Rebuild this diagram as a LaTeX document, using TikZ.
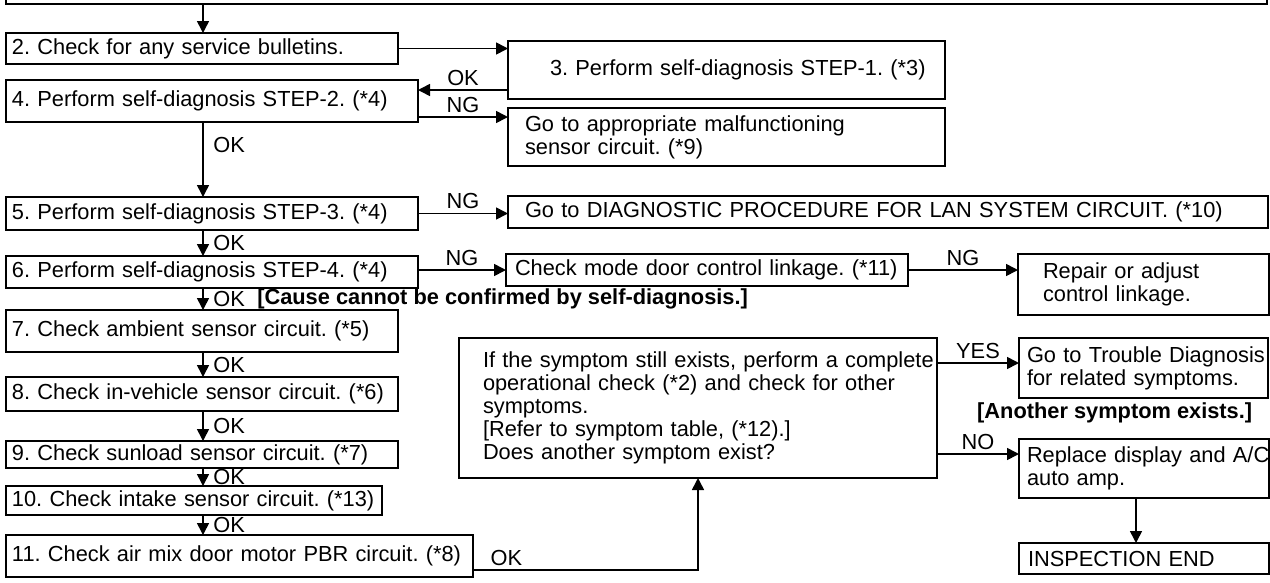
\documentclass[tikz,border=0pt]{standalone}
\usepackage{fontspec}
\setmainfont{Liberation Sans}
\usetikzlibrary{arrows.meta,calc}
\newcommand\fsz{\fontsize{21.8}{23}\selectfont\frenchspacing}
\begin{document}
\begin{tikzpicture}[x=1pt,y=-1pt,
  box/.style={draw, line width=2pt, anchor=north west, align=left, inner xsep=6pt, inner ysep=0pt, outer sep=0pt, font=\fsz},
  arr/.style={line width=1.6pt, -{Triangle[length=12pt,width=12pt]}},
  hlbl/.style={font=\fsz, inner sep=1.5pt, above, yshift=2pt},
  vlbl/.style={font=\fsz, inner sep=1.5pt, right, xshift=8pt},
  blbl/.style={font=\fsz\bfseries, inner sep=0pt, anchor=west},
]
\useasboundingbox (0,0) rectangle (1270,582);
% boxes
\node[box, minimum width=1261pt, minimum height=60pt] (b1) at (6,-56) {};
\node[box, text width=380pt, minimum height=31pt] (b2) at (6,33) {2. Check for any service bulletins.};
\node[box, text width=425pt, minimum height=58pt] (b3) at (508,41) {\leftskip=36pt\relax\mbox{3. Perform self-diagnosis STEP-1. (*3)}\par};
\node[box, text width=400pt, minimum height=42pt] (b4) at (6,80) {4. Perform self-diagnosis STEP-2. (*4)};
\node[box, text width=425pt, minimum height=58pt] (bgo) at (508,108) {\leftskip=11pt\relax Go to appropriate malfunctioning\\sensor circuit. (*9)\par};
\node[box, text width=400pt, minimum height=33pt] (b5) at (6,197) {5. Perform self-diagnosis STEP-3. (*4)};
\node[box, text width=748pt, minimum height=32pt] (lan) at (508,196) {\leftskip=11pt\relax Go to DIAGNOSTIC PROCEDURE FOR LAN SYSTEM CIRCUIT. (*10)\par};
\node[box, text width=400pt, minimum height=32pt] (b6) at (6,256) {6. Perform self-diagnosis STEP-4. (*4)};
\node[box, text width=390pt, minimum height=32pt] (chk) at (506,254) {\leftskip=3pt\relax\mbox{Check mode door control linkage. (*11)}\par};
\node[box, text width=239pt, minimum height=61pt] (rep) at (1018,254) {\leftskip=19pt\relax Repair or adjust\\control linkage.\par};
\node[box, text width=380pt, minimum height=42pt] (b7) at (6,310) {7. Check ambient sensor circuit. (*5)};
\node[box, text width=380pt, minimum height=34pt] (b8) at (6,377) {8. Check in-vehicle sensor circuit. (*6)};
\node[box, text width=380pt, minimum height=27pt] (b9) at (6,441) {9. Check sunload sensor circuit. (*7)};
\node[box, text width=364pt, minimum height=29pt] (b10) at (6,486) {\mbox{10. Check intake sensor circuit. (*13)}};
\node[box, text width=455pt, minimum height=42pt] (b11) at (6,535) {\mbox{11. Check air mix door motor PBR circuit. (*8)}};
\node[box, text width=466pt, minimum height=140pt] (big) at (459,338) {\leftskip=18pt\relax \mbox{If the symptom still exists, perform a complete}\\operational check (*2) and check for other\\symptoms.\\{[}Refer to symptom table, (*12).{]}\\Does another symptom exist?\par};
\node[box, text width=237pt, minimum height=60pt] (tr) at (1019,338) {\leftskip=2pt\relax\mbox{Go to Trouble Diagnosis}\\\mbox{for related symptoms.}\par};
\node[box, text width=238pt, minimum height=59pt] (rep2) at (1019,439) {\leftskip=2pt\relax\mbox{Replace display and A/C}\\auto amp.\par};
\node[box, text width=238pt, minimum height=31pt] (end) at (1019,543) {\leftskip=3pt\relax INSPECTION END\par};
% connectors
\coordinate (sp) at (203,0);
\draw[arr] (b1.south -| sp) -- (b2.north -| sp);
\draw[arr] (b2.east) -- (b2.east -| b3.west);
\coordinate (okA) at ([yshift=9pt]b3.south west);
\draw[arr] (okA) -- node[hlbl] (okAl) {OK} (okA -| b4.east);
\coordinate (ngA) at ([yshift=5pt]b4.south east);
\draw[arr] (ngA) -- node[hlbl] (ngAl) {NG} (ngA -| bgo.west);
\draw[arr] (b4.south -| sp) -- node[vlbl, pos=0.3] (ok4) {OK} (b5.north -| sp);
\draw[arr] (b5.east) -- node[hlbl] (ng5) {NG} (b5.east -| lan.west);
\draw[arr] (b5.south -| sp) -- node[vlbl] (ok5) {OK} (b6.north -| sp);
\draw[arr] (chk.west -| b6.east) -- node[hlbl] (ng6) {NG} (chk.west);
\draw[arr] (chk.east) -- node[hlbl] (ngc) {NG} (chk.east -| rep.west);
\draw[arr] (b6.south -| sp) -- node[vlbl] (ok6) {OK} (b7.north -| sp);
\node[blbl] (cause) at ([xshift=10pt]ok6.east) {[Cause cannot be confirmed by self-diagnosis.]};
\draw[arr] (b7.south -| sp) -- node[vlbl] (ok7) {OK} (b8.north -| sp);
\draw[arr] (b8.south -| sp) -- node[vlbl] (ok8) {OK} (b9.north -| sp);
\draw[arr] (b9.south -| sp) -- node[vlbl] (ok9) {OK} (b10.north -| sp);
\draw[arr] (b10.south -| sp) -- node[vlbl] (ok10) {OK} (b11.north -| sp);
\coordinate (okC) at ([yshift=7pt]b11.south east);
\draw[arr] (okC) -| node[hlbl, pos=0.074] (ok11) {OK} (big.south);
\coordinate (yes) at ([yshift=5pt]tr.west);
\draw[arr] (yes -| big.east) -- node[hlbl] (yesl) {YES} (yes);
\node[blbl] (another) at (977,413) {[Another symptom exists.]};
\coordinate (no) at ([yshift=14.5pt]rep2.west);
\draw[arr] (no -| big.east) -- node[hlbl] (nol) {NO} (no);
\draw[arr] ([xshift=-8pt]rep2.south) -- ([xshift=-8pt]end.north);
\end{tikzpicture}
\end{document}
